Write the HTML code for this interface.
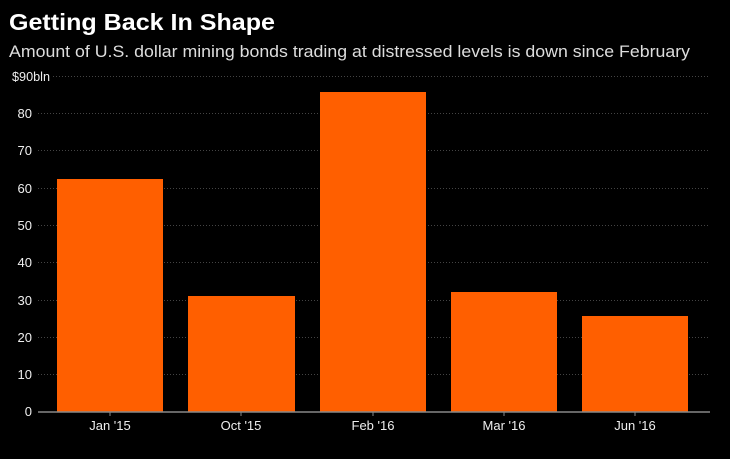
<!DOCTYPE html>
<html><head><style>
body{margin:0;background:#000;width:730px;height:454px;overflow:hidden;font-family:"Liberation Sans",sans-serif}
</style></head><body>
<svg width="730" height="454" xmlns="http://www.w3.org/2000/svg" font-family="Liberation Sans, sans-serif">
<rect width="730" height="454" fill="#000"/>
<text x="9" y="30" fill="#fff" font-size="23" font-weight="bold" textLength="266" lengthAdjust="spacingAndGlyphs">Getting Back In Shape</text>
<text x="9" y="57" fill="#ddd" font-size="17" textLength="681" lengthAdjust="spacingAndGlyphs">Amount of U.S. dollar mining bonds trading at distressed levels is down since February</text>
<g stroke="#444" stroke-dasharray="1,2" stroke-width="1">
<line x1="53" x2="710" y1="76.5" y2="76.5"/>
<line x1="38" x2="710" y1="113.5" y2="113.5"/>
<line x1="38" x2="710" y1="150.5" y2="150.5"/>
<line x1="38" x2="710" y1="188.5" y2="188.5"/>
<line x1="38" x2="710" y1="225.5" y2="225.5"/>
<line x1="38" x2="710" y1="262.5" y2="262.5"/>
<line x1="38" x2="710" y1="300.5" y2="300.5"/>
<line x1="38" x2="710" y1="337.5" y2="337.5"/>
<line x1="38" x2="710" y1="374.5" y2="374.5"/>
</g>
<g fill="#eee" font-size="13" text-anchor="end">
<text x="12" y="81" text-anchor="start" textLength="38" lengthAdjust="spacingAndGlyphs">$90bln</text>
<text x="32" y="118">80</text><text x="32" y="155">70</text><text x="32" y="193">60</text>
<text x="32" y="230">50</text><text x="32" y="267">40</text><text x="32" y="305">30</text>
<text x="32" y="342">20</text><text x="32" y="379">10</text><text x="32" y="416">0</text>
</g>
<g fill="#ff5f00">
<rect x="57" y="179" width="106" height="233"/>
<rect x="188" y="296" width="107" height="116"/>
<rect x="320" y="92" width="106" height="320"/>
<rect x="451" y="292" width="106" height="120"/>
<rect x="582" y="316" width="106" height="96"/>
</g>
<line x1="38" x2="710" y1="412" y2="412" stroke="#888" stroke-width="1.5"/>
<g stroke="#888"><line x1="110" x2="110" y1="412" y2="416"/><line x1="241" x2="241" y1="412" y2="416"/><line x1="373" x2="373" y1="412" y2="416"/><line x1="504" x2="504" y1="412" y2="416"/><line x1="635" x2="635" y1="412" y2="416"/></g>
<g fill="#eee" font-size="13" text-anchor="middle">
<text x="110" y="430">Jan '15</text><text x="241" y="430">Oct '15</text><text x="373" y="430">Feb '16</text><text x="504" y="430">Mar '16</text><text x="635" y="430">Jun '16</text>
</g>
</svg>
</body></html>
